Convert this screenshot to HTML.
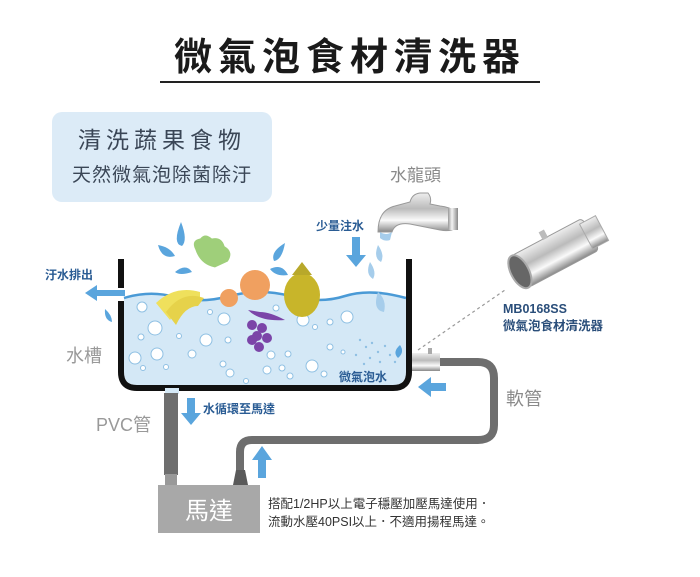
<!DOCTYPE html>
<html><head><meta charset="utf-8"><style>
body{margin:0;background:#fff}
svg{display:block}
text{font-family:"Liberation Sans","Noto Sans CJK TC",sans-serif}
</style></head><body>
<svg width="700" height="577" viewBox="0 0 700 577" xmlns="http://www.w3.org/2000/svg">
<defs>
<linearGradient id="met" x1="0" y1="0" x2="0" y2="1"><stop offset="0" stop-color="#eee"/><stop offset=".4" stop-color="#bbb"/><stop offset=".7" stop-color="#fafafa"/><stop offset="1" stop-color="#888"/></linearGradient>
<linearGradient id="met2" x1="0" y1="0" x2="1" y2="0"><stop offset="0" stop-color="#999"/><stop offset=".4" stop-color="#f4f4f4"/><stop offset="1" stop-color="#888"/></linearGradient>
</defs>
<text x="350" y="70" text-anchor="middle" font-size="38" font-weight="bold" fill="#1a1a1a" letter-spacing="6">微氣泡食材清洗器</text>
<rect x="160" y="81" width="380" height="2" fill="#222"/>
<rect x="52" y="112" width="220" height="90" rx="10" fill="#dcebf7"/>
<text x="162" y="148" text-anchor="middle" font-size="23" fill="#3a4656" letter-spacing="5">清洗蔬果食物</text>
<text x="162" y="181" text-anchor="middle" font-size="19" fill="#3a4656" letter-spacing="1">天然微氣泡除菌除汙</text>
<text x="390" y="181" font-size="17" fill="#8a8a8a">水龍頭</text>
<!-- water -->
<path d="M124 298 Q150 290 175 297 T230 296 T290 296 T345 296 T406 298 L406 372 Q406 385 393 385 L137 385 Q124 385 124 372 Z" fill="#d4e8f6"/>
<path d="M124 298 Q150 290 175 297 T230 296 T290 296 T345 296 T406 298" fill="none" stroke="#4a9ad6" stroke-width="2.5"/>
<!-- bubbles -->
<g fill="#fff" stroke="#8fc0e3" stroke-width="1">
<circle cx="142" cy="307" r="5"/><circle cx="155" cy="328" r="7"/><circle cx="141" cy="337" r="3"/><circle cx="135" cy="358" r="6"/><circle cx="157" cy="354" r="6"/><circle cx="143" cy="368" r="2.5"/><circle cx="166" cy="367" r="2.5"/><circle cx="179" cy="336" r="2.5"/><circle cx="192" cy="354" r="4"/><circle cx="206" cy="340" r="6"/><circle cx="224" cy="319" r="6"/><circle cx="228" cy="340" r="3"/><circle cx="210" cy="312" r="2.5"/><circle cx="223" cy="364" r="3"/><circle cx="230" cy="373" r="4"/><circle cx="246" cy="381" r="2.5"/><circle cx="267" cy="370" r="4"/><circle cx="282" cy="368" r="3"/><circle cx="271" cy="355" r="4"/><circle cx="288" cy="354" r="3"/><circle cx="276" cy="308" r="3"/><circle cx="303" cy="320" r="6"/><circle cx="315" cy="327" r="2.5"/><circle cx="330" cy="322" r="3"/><circle cx="347" cy="317" r="6"/><circle cx="330" cy="347" r="3"/><circle cx="343" cy="352" r="2"/><circle cx="312" cy="366" r="6"/><circle cx="324" cy="374" r="3"/><circle cx="290" cy="376" r="3"/>
</g>
<g fill="#8fc0e3"><circle cx="360" cy="340" r="1.2"/><circle cx="366" cy="347" r="1.2"/><circle cx="372" cy="343" r="1.2"/><circle cx="378" cy="352" r="1.2"/><circle cx="385" cy="346" r="1.2"/><circle cx="390" cy="355" r="1.2"/><circle cx="370" cy="358" r="1.2"/><circle cx="380" cy="362" r="1.2"/><circle cx="395" cy="362" r="1.2"/><circle cx="398" cy="352" r="1.2"/><circle cx="356" cy="355" r="1.2"/><circle cx="364" cy="364" r="1.2"/></g>
<!-- tank walls -->
<path d="M121 259 V288 M121 301 V372 Q121 388 137 388 L393 388 Q409 388 409 372 V259" fill="none" stroke="#111" stroke-width="6"/>
<rect x="165" y="388" width="14" height="6" fill="#d4e8f6"/>
<!-- fruits -->
<g>
<path d="M195 250 Q190 240 200 238 Q205 232 212 238 Q222 236 225 246 Q235 252 228 262 L215 268 Q200 265 195 250Z" fill="#9fcf7a" stroke="#fff" stroke-width="1"/>
<path d="M156 303 Q175 285 200 292 L200 300 Q185 300 170 320 Z" fill="#efe05c"/>
<path d="M166 312 Q182 290 204 298 L198 306 Q185 306 176 325Z" fill="#e6d24a"/>
<circle cx="255" cy="285" r="15" fill="#f0a060"/>
<circle cx="229" cy="298" r="9" fill="#f0a060"/>
<ellipse cx="302" cy="295" rx="18" ry="22" fill="#c8b52a"/>
<path d="M292 275 L302 262 L312 275Z" fill="#b8a82a"/>
<path d="M248 310 Q260 322 285 320 Q270 312 260 312Z" fill="#7b45a8"/>
<g fill="#7b45a8"><circle cx="252" cy="325" r="5"/><circle cx="262" cy="328" r="5"/><circle cx="257" cy="336" r="5"/><circle cx="267" cy="338" r="5"/><circle cx="252" cy="340" r="5"/><circle cx="259" cy="347" r="5"/></g>
<g fill="#5aa5dd"><path d="M181 222 Q188 240 182 246 Q172 244 181 222Z"/><path d="M158 245 Q170 247 175 256 Q162 260 158 245Z"/><path d="M175 272 Q186 263 192 272 Q180 276 175 272Z"/><path d="M285 243 Q282 260 274 261 Q270 252 285 243Z"/><path d="M270 269 Q282 263 288 275 Q276 277 270 269Z"/><path d="M105 309 Q112 315 112 322 Q104 320 105 309Z"/><path d="M400 345 Q392 352 398 358 Q405 352 400 345Z"/></g>
<g fill="#a6cdeb"><path d="M378 245 Q385 255 381 262 Q373 258 378 245Z"/><path d="M370 262 Q377 272 373 279 Q365 274 370 262Z"/><path d="M378 292 Q387 300 384 312 Q372 310 378 292Z"/></g>
</g>
<text x="45" y="279" font-size="12" font-weight="bold" fill="#2a5c94">汙水排出</text>
<path d="M85 293 L97 285 V290 H125 V296 H97 V301 Z" fill="#5aa5dd"/>
<text x="66" y="362" font-size="18" fill="#999">水槽</text>
<text x="316" y="230" font-size="12" font-weight="bold" fill="#2a5c94">少量注水</text>
<path d="M352 237 H360 V255 H366 L356 267 L346 255 H352 Z" fill="#5aa5dd"/>
<!-- faucet -->
<path d="M378 232 Q378 210 395 206 L410 202 Q412 194 420 193 L428 193 Q432 198 430 204 L440 206 Q450 207 456 212 L456 228 Q450 232 440 230 L410 224 Q395 222 392 232 Z" fill="url(#met)" stroke="#999" stroke-width="1"/>
<rect x="448" y="208" width="10" height="22" fill="url(#met2)"/>
<path d="M380 232 Q386 236 392 232 L390 240 Q385 242 380 238Z" fill="#a6cdeb"/>
<text x="339" y="381" font-size="12" font-weight="bold" fill="#2a5c94">微氣泡水</text>
<!-- connector -->
<rect x="412" y="353" width="28" height="18" fill="url(#met)"/>
<rect x="428" y="348" width="4" height="6" fill="#aaa"/>
<line x1="418" y1="350" x2="505" y2="290" stroke="#999" stroke-width="1.2" stroke-dasharray="3,3"/>
<!-- hose -->
<path d="M440 362 H478 Q494 362 494 378 V425 Q494 440 478 440 H252 Q240 440 240 452 V480" fill="none" stroke="#6e6e6e" stroke-width="8"/>
<path d="M236 470 L233 485 H248 L245 470Z" fill="#5a5a5a"/>
<path d="M418 387 L431 377 V383 H446 V391 H431 V397 Z" fill="#5aa5dd"/>
<text x="506" y="405" font-size="18" fill="#8a8a8a">軟管</text>
<!-- PVC -->
<rect x="164" y="393" width="14" height="82" fill="#6e6e6e"/>
<rect x="165" y="474" width="12" height="12" fill="#999"/>
<text x="96" y="431" font-size="18" fill="#999">PVC管</text>
<path d="M187 398 H195 V413 H201 L191 425 L181 413 H187Z" fill="#5aa5dd"/>
<text x="203" y="413" font-size="12" font-weight="bold" fill="#2a5c94">水循環至馬達</text>
<path d="M258 478 H266 V460 H272 L262 446 L252 460 H258Z" fill="#5aa5dd"/>
<rect x="158" y="485" width="102" height="48" fill="#a8a8a8"/>
<text x="209" y="519" text-anchor="middle" font-size="24" fill="#fff">馬達</text>
<text x="268" y="508" font-size="12.5" fill="#333">搭配1/2HP以上電子穩壓加壓馬達使用．</text>
<text x="268" y="526" font-size="12.5" fill="#333">流動水壓40PSI以上．不適用揚程馬達。</text>
<!-- product -->
<g transform="rotate(-28 557 252)">
<rect x="515" y="234" width="80" height="36" rx="4" fill="url(#met)" stroke="#999"/>
<rect x="590" y="238" width="18" height="28" fill="url(#met)" stroke="#aaa"/>
<rect x="550" y="226" width="6" height="9" fill="#bbb"/>
<ellipse cx="515" cy="252" rx="9" ry="18" fill="#666" stroke="#aaa" stroke-width="2"/>
</g>
<text x="503" y="313" font-size="12.5" font-weight="bold" fill="#2a4e7a">MB0168SS</text>
<text x="503" y="330" font-size="12.5" font-weight="bold" fill="#2a4e7a">微氣泡食材清洗器</text>
</svg>
</body></html>
